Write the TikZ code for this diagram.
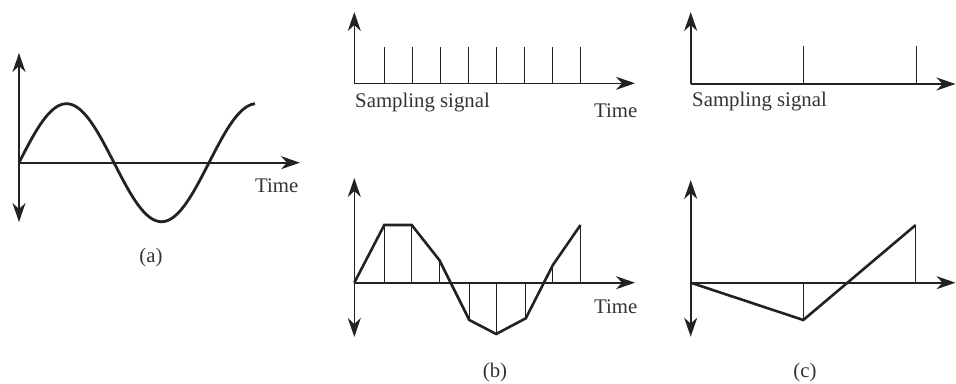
\documentclass[tikz,border=0pt]{standalone}
\usepackage{fontspec}
\setmainfont{Liberation Serif}
\usetikzlibrary{arrows.meta}
\definecolor{ink}{HTML}{222222}
\definecolor{txt}{HTML}{333333}
\tikzset{
  axis/.style={draw=ink, line width=1.6pt, -{Stealth[length=19pt,width=13pt,inset=6pt]}},
  axisboth/.style={draw=ink, line width=1.6pt, {Stealth[length=19pt,width=13pt,inset=6pt]}-{Stealth[length=19pt,width=13pt,inset=6pt]}},
  sig/.style={draw=ink, line width=2.6pt, line join=miter},
  stem/.style={draw=ink, line width=1pt},
  lbl/.style={text=txt, font=\fontsize{20.8}{24}\selectfont, inner sep=0pt},
}
\begin{document}
\begin{tikzpicture}[x=1pt,y=-1pt]
\useasboundingbox (0,0) rectangle (956,383);
% ---------- (a) ----------
\coordinate (aO) at (19,162.7);
\coordinate (aT) at (19,53);
\coordinate (aB) at (19,222);
\coordinate (aR) at (300,162.7);
\draw[axisboth] (aB) -- (aT);
\draw[axis] (aO) -- (aR);
\draw[sig, line width=2.8pt] plot[domain=19:255, samples=120, smooth] (\x,{162.7-59*sin(1.894737*(\x-19))});
\node[lbl, anchor=base west] (aTime) at (255,192.5) {Time};
\node[lbl] (aCap) at (151,257) {(a)};
% ---------- (b) top ----------
\coordinate (btO) at (354.3,83.3);
\coordinate (btT) at (354.3,12);
\coordinate (btR) at (635,83.3);
\draw[axis] (btO) -- (btT);
\draw[axis] (btO) -- (btR);
\foreach \k in {0,...,7}{
  \draw[stem] ({384.3+28.05*\k},83.3) -- ({384.3+28.05*\k},47);
}
\node[lbl, anchor=base west] (bSamp) at (355,107) {Sampling signal};
\node[lbl, anchor=base west] (btTime) at (594,117.5) {Time};
% ---------- (b) bottom ----------
\coordinate (bbO) at (354.3,282.7);
\coordinate (bbT) at (354.3,178);
\coordinate (bbB) at (354.3,337);
\coordinate (bbR) at (635,282.7);
\foreach \xx/\yy in {384.3/225,411.7/225,439.3/260,469.3/320,496.2/334,525.8/318.3,552.9/265,580.5/225}{
  \draw[stem] (\xx,282.7) -- (\xx,\yy);
}
\draw[axisboth] (bbB) -- (bbT);
\draw[axis] (bbO) -- (bbR);
\draw[sig] (bbO) -- (384.3,225) -- (411.7,225) -- (439.3,260) -- (469.3,320) -- (496.2,334) -- (525.8,318.3) -- (552.9,265) -- (580.5,225);
\node[lbl, anchor=base west] (bbTime) at (594,313.5) {Time};
\node[lbl] (bCap) at (495,372) {(b)};
% ---------- (c) top ----------
\coordinate (ctO) at (690.7,84);
\coordinate (ctT) at (690.7,12);
\coordinate (ctR) at (955.5,84);
\draw[axis] (ctO) -- (ctT);
\draw[axis] (ctO) -- (ctR);
\draw[stem] (803.3,84) -- (803.3,45.7);
\draw[stem] (916.2,84) -- (916.2,45.7);
\node[lbl, anchor=base west] (cSamp) at (692,106) {Sampling signal};
% ---------- (c) bottom ----------
\coordinate (cbO) at (690.7,282.7);
\coordinate (cbT) at (690.7,180);
\coordinate (cbB) at (690.7,336.7);
\coordinate (cbR) at (955.5,282.7);
\draw[stem] (803.3,282.7) -- (803.3,320);
\draw[stem] (915.7,282.7) -- (915.7,225);
\draw[axisboth] (cbB) -- (cbT);
\draw[axis] (cbO) -- (cbR);
\draw[sig] (cbO) -- (803.3,320) -- (915.7,225);
\node[lbl] (cCap) at (805,372) {(c)};
\end{tikzpicture}
\end{document}
